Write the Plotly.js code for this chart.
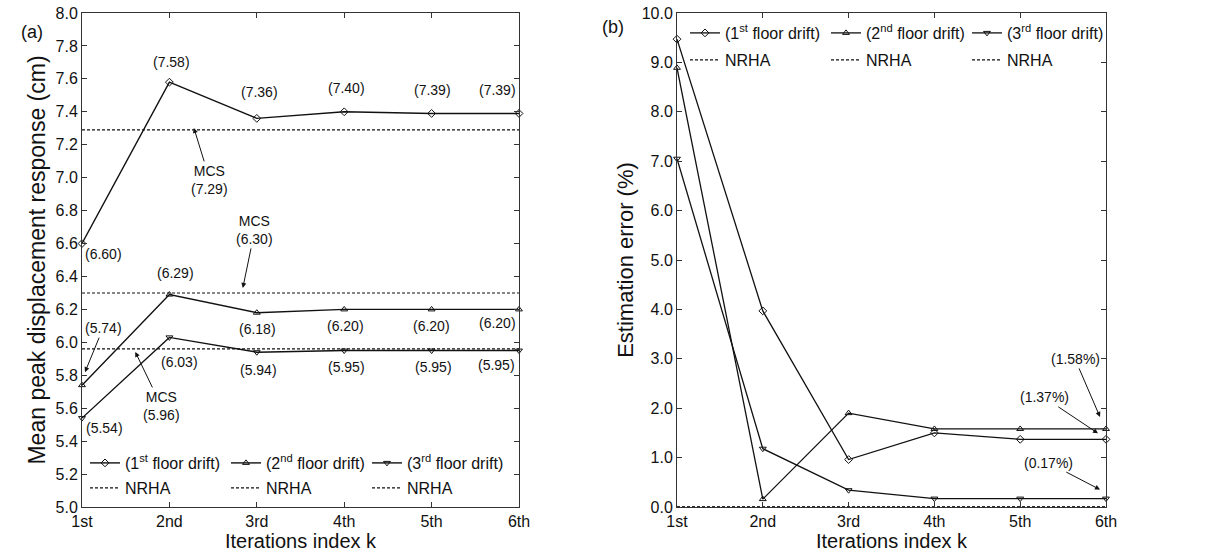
<!DOCTYPE html>
<html><head><meta charset="utf-8">
<script src="https://cdn.plot.ly/plotly-3.0.1.min.js"></script>
<style>html,body{margin:0;padding:0;background:#fff}#chart{width:1212px;height:555px}</style>
</head><body><div id="chart"></div>
<script>
// ---- data ----
const iterations = ['1st', '2nd', '3rd', '4th', '5th', '6th'];
const floorNames = ['(1<sup>st</sup> floor drift)', '(2<sup>nd</sup> floor drift)', '(3<sup>rd</sup> floor drift)'];
const refName = 'NRHA';
const meanFloor1 = [6.60, 7.58, 7.36, 7.40, 7.39, 7.39];
const meanFloor2 = [5.74, 6.29, 6.18, 6.20, 6.20, 6.20];
const meanFloor3 = [5.54, 6.03, 5.94, 5.95, 5.95, 5.95];
const mcsMean = [7.29, 6.30, 5.96];
const errFloor1 = [9.47, 3.97, 0.96, 1.50, 1.37, 1.37];
const errFloor2 = [8.89, 0.16, 1.90, 1.58, 1.58, 1.58];
const errFloor3 = [7.05, 1.18, 0.34, 0.17, 0.17, 0.17];
const nrhaErr = [0, 0, 0];

// ---- styles ----
const FONT = 'Liberation Sans, Arial, sans-serif';
const INK = '#111';
const symbols = ['diamond-open', 'triangle-up-open', 'triangle-down-open'];
const W = 1212;
const plotTop = 13, plotBot = 507, plotH = plotBot - plotTop;
const px = v => v / W;
const py = v => (plotBot - v) / plotH;

const meanSeries = [meanFloor1, meanFloor2, meanFloor3];
const errSeries = [errFloor1, errFloor2, errFloor3];
const last = iterations.length - 1;

const traces = [];
meanSeries.forEach((s, i) => traces.push({
  type: 'scatter', mode: 'lines+markers', x: iterations, y: s, name: floorNames[i],
  xaxis: 'x', yaxis: 'y', legend: 'legend', cliponaxis: false,
  line: {color: INK, width: 1.4}, marker: {symbol: symbols[i], size: 6, color: INK, line: {width: 1, color: INK}}
}));
mcsMean.forEach((v, i) => traces.push({
  type: 'scatter', mode: 'lines', x: [iterations[0], iterations[last]], y: [v, v], name: refName,
  xaxis: 'x', yaxis: 'y', legend: 'legend2',
  line: {color: INK, width: 1.1, dash: '3px,2px'}
}));
errSeries.forEach((s, i) => traces.push({
  type: 'scatter', mode: 'lines+markers', x: iterations, y: s, name: floorNames[i],
  xaxis: 'x2', yaxis: 'y2', legend: 'legend3', cliponaxis: false,
  line: {color: INK, width: 1.3}, marker: {symbol: symbols[i], size: 6, color: INK, line: {width: 1, color: INK}}
}));
nrhaErr.forEach((v, i) => traces.push({
  type: 'scatter', mode: 'lines', x: [iterations[0], iterations[last]], y: [v, v], name: refName,
  xaxis: 'x2', yaxis: 'y2', legend: 'legend4',
  line: {color: INK, width: 1.1, dash: '3px,2px'}
}));

// ---- value labels (offsets in px) ----
const labelOffsets = [
  [[21, -10], [2, 20], [3, 26], [2, 24], [1, 23], [-22, 23]],
  [null, [6, 22], [1, -16], [1, -17], [0, -17], [-22, -14]],
  [[22, -10], [10, -25], [2, -18], [2, -16], [2, -16], [-23, -14]]
];
const ann = [];
const lblFont = {family: FONT, size: 14, color: INK};
meanSeries.forEach((s, i) => s.forEach((v, j) => {
  const o = labelOffsets[i][j];
  if (!o) return;
  ann.push({xref: 'x', yref: 'y', x: j, y: v, text: '(' + v.toFixed(2) + ')', showarrow: false,
    xshift: o[0], yshift: o[1], font: lblFont});
}));
const arrowBase = {showarrow: true, arrowhead: 2, arrowsize: 1, arrowwidth: 1, arrowcolor: INK, font: lblFont, standoff: 0};
ann.push(Object.assign({}, arrowBase, {xref: 'x', yref: 'y', x: 0, y: meanFloor2[0], xshift: 3, yshift: 13,
  ax: 18, ay: -44, text: '(' + meanFloor2[0].toFixed(2) + ')'}));
// MCS references
const mcsPos = [[1.28, 2, 16, 52], [1.84, 5, 12, -58], [0.61, -3, 26, 54]];
mcsMean.forEach((v, i) => {
  const p = mcsPos[i];
  ann.push(Object.assign({}, arrowBase, {xref: 'x', yref: 'y', x: p[0], y: v, yshift: p[1],
    ax: p[2], ay: p[3], text: 'MCS<br>(' + v.toFixed(2) + ')'}));
});
// right panel final-error labels
const errLabels = [[errFloor2, -6, 12, -25, -58], [errFloor1, -8, 6, -54, -36], [errFloor3, -6, 9, -52, -27]];
errLabels.forEach(e => {
  const v = e[0][last];
  ann.push(Object.assign({}, arrowBase, {xref: 'x2', yref: 'y2', x: last, y: v, xshift: e[1], yshift: e[2],
    ax: e[3], ay: e[4], text: '(' + v.toFixed(2) + '%)'}));
});
ann.push({xref: 'paper', yref: 'paper', x: px(19), y: py(20), text: '(a)', showarrow: false, font: {family: FONT, size: 18, color: INK}});
ann.push({xref: 'paper', yref: 'paper', x: px(613), y: py(15), text: '(b)', showarrow: false, font: {family: FONT, size: 18, color: INK}});

const axisBase = {showline: true, linecolor: '#333', linewidth: 1, mirror: 'ticks', ticks: 'inside', ticklen: 5,
  tickcolor: '#333', showgrid: false, zeroline: false, tickfont: {family: FONT, size: 16, color: INK}};
const xBase = Object.assign({}, axisBase, {type: 'category', range: [0, last],
  title: {text: 'Iterations index k', standoff: 4, font: {family: FONT, size: 20, color: INK}}});
const legBase = {orientation: 'h', xanchor: 'left', yanchor: 'middle', bgcolor: 'rgba(0,0,0,0)', borderwidth: 0,
  itemwidth: 30, entrywidth: 96, font: {family: FONT, size: 16, color: INK}, tracegroupgap: 0};

const layout = {
  width: 1212, height: 555, margin: {l: 0, r: 0, t: plotTop, b: 555 - plotBot},
  paper_bgcolor: '#fff', plot_bgcolor: '#fff', font: {family: FONT, color: INK},
  xaxis: Object.assign({}, xBase, {domain: [px(82), px(519)], anchor: 'y'}),
  yaxis: Object.assign({}, axisBase, {domain: [0, 1], anchor: 'x', range: [5, 8], dtick: 0.2, tickformat: '.1f',
    title: {text: 'Mean peak displacement response (cm)', standoff: 3, font: {family: FONT, size: 23, color: INK}}}),
  xaxis2: Object.assign({}, xBase, {domain: [px(677), px(1106)], anchor: 'y2'}),
  yaxis2: Object.assign({}, axisBase, {domain: [0, 1], anchor: 'x2', range: [0, 10], dtick: 1, tickformat: '.1f',
    title: {text: 'Estimation error (%)', standoff: 1, font: {family: FONT, size: 22, color: INK}}}),
  legend: Object.assign({}, legBase, {x: px(85), y: py(463)}),
  legend2: Object.assign({}, legBase, {x: px(85), y: py(488)}),
  legend3: Object.assign({}, legBase, {x: px(685), y: py(33)}),
  legend4: Object.assign({}, legBase, {x: px(685), y: py(60)}),
  annotations: ann, showlegend: true
};
Plotly.newPlot('chart', traces, layout, {displayModeBar: false, staticPlot: true});
</script></body></html>
